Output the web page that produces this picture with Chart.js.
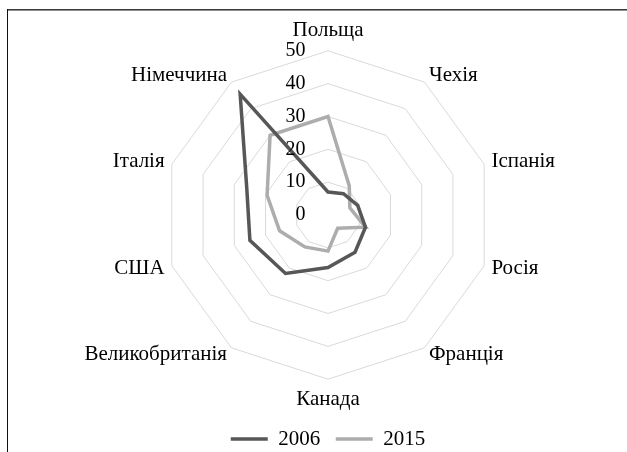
<!DOCTYPE html>
<html>
<head>
<meta charset="utf-8">
<script src="https://cdn.jsdelivr.net/npm/chart.js@4.4.1/dist/chart.umd.min.js"></script>
<style>
  html, body { margin: 0; padding: 0; background: #fff; overflow: hidden; width: 627px; height: 452px; }
  #frameTop { position: absolute; left: 7px; top: 9px; width: 700px; height: 0; border-top: 1px solid #3c3c3c; }
  #frameTop2 { position: absolute; left: 8px; top: 10px; width: 700px; height: 0; border-top: 1px solid #8e8e8e; }
  #frameLeft { position: absolute; left: 7px; top: 9px; width: 0; height: 500px; border-left: 1px solid #111; }
  #c { position: absolute; left: 0; top: 0; }
</style>
</head>
<body>
<div id="frameTop"></div><div id="frameTop2"></div><div id="frameLeft"></div>
<canvas id="c" width="640" height="470" style="width:640px;height:470px"></canvas>
<script>
const CATEGORIES = ['Польща', 'Чехія', 'Іспанія', 'Росія', 'Франція', 'Канада', 'Великобританія', 'США', 'Італія', 'Німеччина'];
const SERIES_2006 = [7, 8, 9.5, 12, 14, 16, 22, 25, 26, 45.5];
const SERIES_2015 = [30, 11, 7, 12, 5, 11, 12, 15.5, 19.5, 30];
const SERIES_NAMES = ['2006', '2015'];
const TICKS = [0, 10, 20, 30, 40, 50];

const FONT = 'Liberation Serif, Times New Roman, serif';

const chart = new Chart(document.getElementById('c'), {
  type: 'radar',
  data: {
    labels: CATEGORIES,
    datasets: [
      { label: SERIES_NAMES[0], data: SERIES_2006, borderColor: '#575757', backgroundColor: '#575757', borderWidth: 3.5, pointRadius: 0, fill: false },
      { label: SERIES_NAMES[1], data: SERIES_2015, borderColor: '#adadad', backgroundColor: '#adadad', borderWidth: 3.5, pointRadius: 0, fill: false }
    ]
  },
  options: {
    responsive: false,
    animation: false,
    layout: { padding: { left: 40, right: 24, top: 19, bottom: 10.5 } },
    plugins: {
      legend: {
        position: 'bottom',
        labels: {
          usePointStyle: true,
          pointStyle: 'line',
          pointStyleWidth: 37,
          padding: 15.5,
          color: '#000',
          font: { family: FONT, size: 21 }
        }
      },
      tooltip: { enabled: false }
    },
    scales: {
      r: {
        min: -0.001,
        max: 50,
        afterBuildTicks: (scale) => { scale.ticks = TICKS.map(v => ({ value: v })); },
        angleLines: { display: false },
        grid: { color: '#d9d9d9', lineWidth: 1 },
        ticks: {
          z: 1,
          color: '#000',
          showLabelBackdrop: false,
          backdropPadding: 0,
          font: { family: FONT, size: 20 },
          callback: (v) => { const s = String(Math.round(v)); return s + (s.length === 1 ? '\u2003\u2003   ' : '\u2003\u2003\u2003 '); }
        },
        pointLabels: {
          color: '#000',
          padding: -2.4,
          font: (ctx) => ({ family: FONT, size: 21, lineHeight: (ctx.index === 0 || ctx.index === 5) ? 1.2 : 0.01 })
        }
      }
    }
  }
});
</script>
</body>
</html>
